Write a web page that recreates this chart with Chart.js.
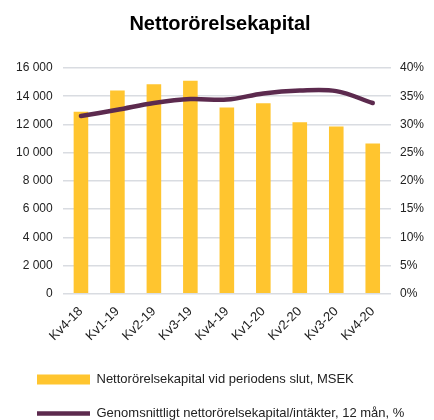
<!DOCTYPE html>
<html>
<head>
<meta charset="utf-8">
<script src="https://cdn.jsdelivr.net/npm/chart.js@4"></script>
<style>
    html, body { margin: 0; padding: 0; background: #fff; }
    #chart { display: block; }
</style>
</head>
<body>
<canvas id="chart" width="434" height="420"></canvas>
<script>
const labels = ['Kv4-18', 'Kv1-19', 'Kv2-19', 'Kv3-19', 'Kv4-19', 'Kv1-20', 'Kv2-20', 'Kv3-20', 'Kv4-20']

// MSEK
const workingCapital = [12900, 14400, 14850, 15100, 13200, 13500, 12150, 11850, 10650]
// %
const capitalToRevenue = [31.5, 32.6, 33.8, 34.5, 34.4, 35.5, 36.0, 35.9, 33.8]

const leftTicks = [0, 2000, 4000, 6000, 8000, 10000, 12000, 14000, 16000]
const rightTicks = [0, 5, 10, 15, 20, 25, 30, 35, 40]

const family = "'Liberation Sans', Arial, sans-serif"
const font = { family, size: 12 }

function spaced(v) {
    return String(v).replace(/\B(?=(\d{3})+(?!\d))/g, ' ')
}

new Chart(document.getElementById('chart'), {
    data: {
        labels,
        datasets: [{
            type: 'line',
            label: 'Genomsnittligt nettorörelsekapital/intäkter, 12 mån, %',
            data: capitalToRevenue,
            yAxisID: 'y2',
            borderColor: '#5C2A4E',
            backgroundColor: '#5C2A4E',
            borderWidth: 4.5,
            borderCapStyle: 'round',
            tension: 0.35,
            pointRadius: 0,
            pointStyle: 'line',
            order: 1
        }, {
            type: 'bar',
            label: 'Nettorörelsekapital vid periodens slut, MSEK',
            data: workingCapital,
            yAxisID: 'y',
            backgroundColor: '#FFC52F',
            borderWidth: 0,
            categoryPercentage: 1,
            barPercentage: 0.4,
            pointStyle: 'rect',
            order: 2
        }]
    },
    options: {
        responsive: false,
        animation: false,
        layout: {
            padding: { left: 16, right: 10, top: 0, bottom: -10 }
        },
        plugins: {
            title: {
                display: true,
                text: 'Nettorörelsekapital',
                color: '#000',
                font: { family, size: 20, weight: 'bold' },
                padding: { top: 12, bottom: 32 }
            },
            legend: {
                position: 'bottom',
                align: 'start',
                reverse: true,
                labels: {
                    color: '#222',
                    font: { family, size: 13 },
                    usePointStyle: true,
                    pointStyleWidth: 53,
                    boxHeight: 10,
                    padding: 21
                }
            },
            tooltip: { enabled: false }
        },
        scales: {
            x: {
                grid: { display: false },
                border: { display: false },
                afterFit: (axis) => { axis.height += 6 },
                ticks: {
                    color: '#222',
                    font: { family, size: 13 },
                    maxRotation: 45,
                    minRotation: 45,
                    padding: 2
                }
            },
            y: {
                position: 'left',
                min: 0,
                max: 16000,
                afterBuildTicks: (axis) => { axis.ticks = leftTicks.map(v => ({ value: v })) },
                // chart.js reserves the padding twice, drop one
                afterFit: (axis) => { axis.width -= 10 },
                grid: { color: '#D9DCE1', lineWidth: 1.5, drawTicks: false },
                border: { display: false },
                ticks: {
                    color: '#222',
                    font,
                    padding: 10,
                    callback: (v) => spaced(v)
                }
            },
            y2: {
                position: 'right',
                min: 0,
                max: 40,
                afterBuildTicks: (axis) => { axis.ticks = rightTicks.map(v => ({ value: v })) },
                afterFit: (axis) => { axis.width -= 9 },
                grid: { display: false, drawTicks: false },
                border: { display: false },
                ticks: {
                    color: '#222',
                    font,
                    padding: 9,
                    callback: (v) => v + '%'
                }
            }
        }
    }
})
</script>
</body>
</html>
